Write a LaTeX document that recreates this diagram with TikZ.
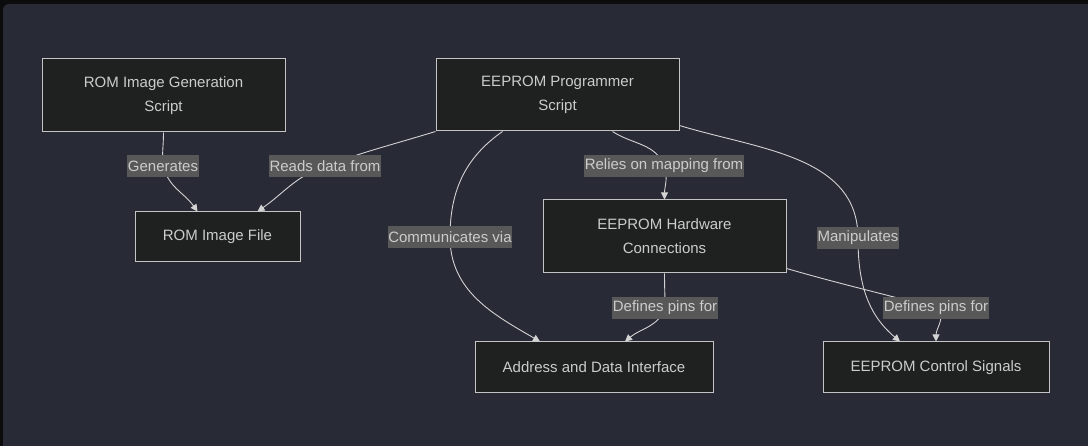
\documentclass[tikz,border=0pt]{standalone}
\usepackage{fontspec}
\setmainfont{Liberation Sans}
\usetikzlibrary{arrows.meta,positioning}
\definecolor{bgpanel}{HTML}{282A36}
\definecolor{bgedge}{HTML}{0C0C0C}
\definecolor{boxfill}{HTML}{1F2020}
\definecolor{boxline}{HTML}{C4C4C4}
\definecolor{txtgray}{HTML}{CCCCCC}
\definecolor{linkgray}{HTML}{D3D3D3}
\definecolor{lblfill}{HTML}{585858}
\tikzset{
  block/.style={draw=boxline, line width=1pt, fill=boxfill, text=txtgray, align=center,
    inner sep=0pt, font=\fontsize{15}{24}\selectfont},
  edgelabel/.style={fill=lblfill, text=txtgray, inner xsep=0.5pt, inner ysep=0pt,
    minimum height=22pt, font=\fontsize{15}{18}\selectfont},
  link/.style={draw=linkgray, line width=0.9pt, -{Triangle[length=7pt,width=7pt]}}
}
\begin{document}
\begin{tikzpicture}[x=1pt,y=-1pt]
  \useasboundingbox (0,0) rectangle (1088,446);
  \fill[bgedge] (0,0) rectangle (1088,446);
  \begin{scope}
    \clip (0,0) rectangle (1088,446);
    \fill[bgpanel, rounded corners=6pt] (3,4) rectangle (1100,460);
  \end{scope}
  \node[block, minimum width=243pt, minimum height=73pt] (romgen) at (163.5,95.5) {ROM Image Generation\\Script};
  \node[block, minimum width=243pt, minimum height=72pt] (prog) at (557.5,95) {EEPROM Programmer\\Script};
  \node[block, minimum width=165pt, minimum height=50pt] (romfile) at (217.5,237) {ROM Image File};
  \node[block, minimum width=243pt, minimum height=73pt] (hw) at (664.5,236.5) {EEPROM Hardware\\Connections};
  \node[block, minimum width=238pt, minimum height=51pt] (addr) at (594,367.5) {Address and Data Interface};
  \node[block, minimum width=226pt, minimum height=51pt] (ctrl) at (936,367.5) {EEPROM Control Signals};
  \path (romgen.south) to[out=-90,in=100] (163,166) coordinate (cgen);
  \draw[link] (romgen.south) to[out=-90,in=95] (cgen) to[out=-75,in=125] ([xshift=-20pt]romfile.north);
  \draw[link] (prog.south west) to[out=197,in=20] (325,166) coordinate (cread) to[out=200,in=35] ([xshift=40pt]romfile.north);
  \draw[link] ([xshift=-55pt]prog.south) to[out=215,in=90] (450,237) coordinate (ccomm) to[out=-90,in=150] ([xshift=-54pt]addr.north);
  \draw[link] ([xshift=55pt]prog.south) to[out=-33,in=110] (664,166) coordinate (crel) to[out=-70,in=90] (hw.north);
  \draw[link] ([yshift=6pt]prog.south east) to[out=-17,in=90] (858,238) coordinate (cman) to[out=-90,in=140] ([xshift=-36pt]ctrl.north);
  \draw[link] (hw.south) to[out=-90,in=90] (665,308) coordinate (cpina) to[out=-110,in=40] ([xshift=31pt]addr.north);
  \draw[link] ([yshift=5pt]hw.south east) to[out=-16,in=165] (936,308) coordinate (cpinb) to[out=-30,in=90] (ctrl.north);
  \node[edgelabel] (lgen) at (cgen) {Generates};
  \node[edgelabel] (lread) at (cread) {Reads data from};
  \node[edgelabel] (lcomm) at (ccomm) {Communicates via};
  \node[edgelabel] (lrel) at (crel) {Relies on mapping from};
  \node[edgelabel] (lman) at (cman) {Manipulates};
  \node[edgelabel] (lpina) at (cpina) {Defines pins for};
  \node[edgelabel] (lpinb) at (cpinb) {Defines pins for};
\end{tikzpicture}
\end{document}
